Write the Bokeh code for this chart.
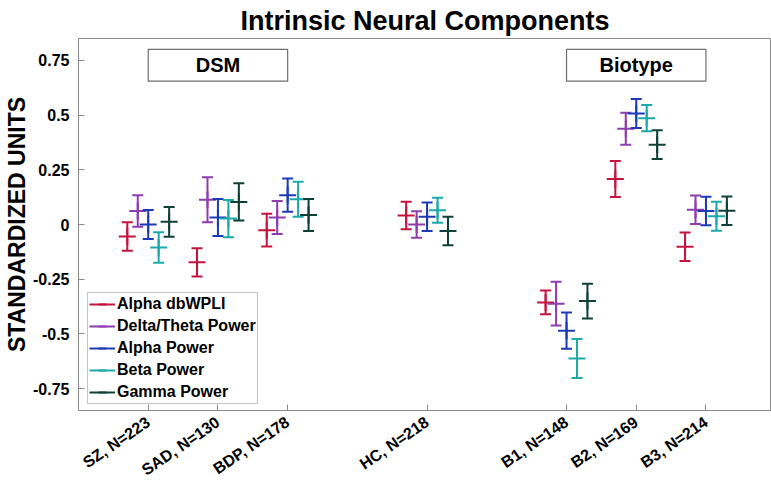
from bokeh.plotting import figure
from bokeh.models import (Range1d, FixedTicker, Legend, LegendItem,
                          ColumnDataSource, Title)
from bokeh.core.properties import value
from bokeh.embed import file_html
from bokeh.resources import INLINE

# ---------------- data ----------------
groups = ["SZ, N=223", "SAD, N=130", "BDP, N=178", "HC, N=218",
          "B1, N=148", "B2, N=169", "B3, N=214"]
group_pos = [1, 2, 3, 5, 7, 8, 9]

series_names = ["Alpha dbWPLI", "Delta/Theta Power", "Alpha Power",
                "Beta Power", "Gamma Power"]

alpha_dbwpli_mean = [-0.055, -0.173, -0.026, 0.041, -0.356, 0.208, -0.102]
alpha_dbwpli_err = [0.065, 0.065, 0.075, 0.063, 0.054, 0.082, 0.065]
delta_theta_mean = [0.062, 0.113, 0.032, 0.000, -0.362, 0.438, 0.067]
delta_theta_err = [0.072, 0.103, 0.075, 0.060, 0.100, 0.073, 0.065]
alpha_power_mean = [0.000, 0.032, 0.134, 0.035, -0.485, 0.507, 0.062]
alpha_power_err = [0.066, 0.084, 0.076, 0.065, 0.083, 0.066, 0.065]
beta_power_mean = [-0.105, 0.027, 0.115, 0.065, -0.612, 0.486, 0.038]
beta_power_err = [0.070, 0.085, 0.080, 0.057, 0.089, 0.060, 0.066]
gamma_power_mean = [0.012, 0.103, 0.043, -0.030, -0.350, 0.365, 0.063]
gamma_power_err = [0.068, 0.085, 0.073, 0.065, 0.079, 0.066, 0.065]

y_ticks = [-0.75, -0.5, -0.25, 0, 0.25, 0.5, 0.75]
y_tick_labels = ["-0.75", "-0.5", "-0.25", "0", "0.25", "0.5", "0.75"]

panel_labels = ["DSM", "Biotype"]

# ---------------- styles ----------------
means = [alpha_dbwpli_mean, delta_theta_mean, alpha_power_mean,
         beta_power_mean, gamma_power_mean]
errs = [alpha_dbwpli_err, delta_theta_err, alpha_power_err,
        beta_power_err, gamma_power_err]
colors = ["#C4143E", "#8E3CAE", "#1C3AB6", "#1CA9A9", "#0F4038"]
offsets = [-0.30, -0.15, 0.0, 0.15, 0.30]

FONT = "Liberation Sans"
GRAY = "#8a8a8a"

p = figure(width=771, height=489, output_backend="svg", toolbar_location=None,
           x_range=Range1d(0, 9.94), y_range=Range1d(-0.85, 0.85),
           min_border_left=78, min_border_right=0, min_border_top=38,
           min_border_bottom=79)
p.title = None
p.add_layout(Title(text="Intrinsic Neural Components", align="center",
                   text_font=FONT, text_font_style="bold",
                   text_font_size="27px", text_color="black",
                   standoff=6, offset=0), "above")
p.outline_line_color = GRAY
p.outline_line_width = 1
p.grid.visible = False
p.background_fill_color = "white"
p.border_fill_color = "white"

# axes
xa = p.xaxis[0]
xa.ticker = FixedTicker(ticks=group_pos)
xa.major_label_overrides = {pos: lab for pos, lab in zip(group_pos, groups)}
xa.major_label_orientation = 0.6
xa.major_label_text_font = FONT
xa.major_label_text_font_style = "bold"
xa.major_label_text_font_size = "16px"
xa.major_label_text_color = "black"
xa.major_label_standoff = 10
xa.major_tick_in = 6
xa.major_tick_out = 0
xa.minor_tick_line_color = None
xa.axis_line_color = GRAY
xa.major_tick_line_color = GRAY

ya = p.yaxis[0]
ya.ticker = FixedTicker(ticks=y_ticks)
ya.major_label_overrides = {t: l for t, l in zip(y_ticks, y_tick_labels)}
ya.major_label_text_font = FONT
ya.major_label_text_font_style = "bold"
ya.major_label_text_font_size = "16px"
ya.major_label_text_color = "black"
ya.major_label_standoff = 9
ya.major_tick_in = 6
ya.major_tick_out = 0
ya.minor_tick_line_color = None
ya.axis_line_color = GRAY
ya.major_tick_line_color = GRAY
ya.axis_label = "STANDARDIZED UNITS"
ya.axis_label_text_font = FONT
ya.axis_label_text_font_style = "bold"
ya.axis_label_text_font_size = "23px"
ya.axis_label_text_color = "black"
ya.axis_label_standoff = 0

# panel boxes (DSM / Biotype)
box_src = ColumnDataSource(dict(
    left=[group_pos[0], group_pos[4]], right=[group_pos[2], group_pos[6]],
    bottom=[0.655, 0.655], top=[0.80, 0.80],
    xc=[group_pos[1], group_pos[5]], yc=[0.7275, 0.7275], label=panel_labels))
p.quad(left="left", right="right", bottom="bottom", top="top", source=box_src,
       fill_color="white", line_color="#6e6e6e", line_width=1.2)
p.text(x="xc", y="yc", text="label", source=box_src, text_align="center",
       text_baseline="middle", text_font=value(FONT), text_font_style="bold",
       text_font_size="20px", text_color="black")

# error bars
items = []
for name, m, e, c, off in zip(series_names, means, errs, colors, offsets):
    xs = [g + off for g in group_pos]
    lo = [mi - ei for mi, ei in zip(m, e)]
    hi = [mi + ei for mi, ei in zip(m, e)]
    src = ColumnDataSource(dict(x=xs, m=m, lo=lo, hi=hi))
    r_v = p.segment(x0="x", y0="lo", x1="x", y1="hi", source=src,
                    line_color=c, line_width=2)
    p.scatter(x="x", y="lo", source=src, marker="dash", size=11,
              line_color=c, line_width=2)
    p.scatter(x="x", y="hi", source=src, marker="dash", size=11,
              line_color=c, line_width=2)
    p.scatter(x="x", y="m", source=src, marker="dash", size=17,
              line_color=c, line_width=2)
    r_leg = p.scatter(x="x", y="m", source=src, marker="dash", angle=1.5708,
                      size=17, line_color=c, line_width=2)
    items.append(LegendItem(label=name, renderers=[r_v, r_leg]))

legend = Legend(items=items, location=(9, 6), orientation="vertical",
                label_text_font=FONT, label_text_font_style="bold",
                label_text_font_size="16px", label_text_color="black",
                glyph_width=26, glyph_height=20, label_height=20,
                label_standoff=2, spacing=2, padding=1, margin=0,
                border_line_color=GRAY, border_line_width=1.2,
                background_fill_color="white", background_fill_alpha=1)
p.add_layout(legend, "center")

open("out.html", "w").write(file_html(p, INLINE))
